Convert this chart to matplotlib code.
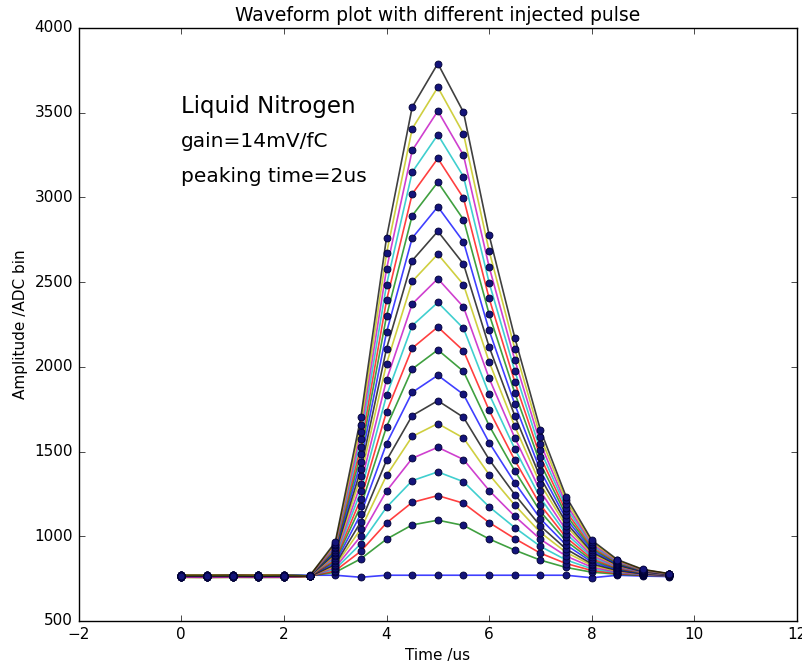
import numpy as np
import matplotlib.pyplot as plt

time_us = [0, 0.5, 1, 1.5, 2, 2.5, 3, 3.5, 4, 4.5, 5, 5.5, 6, 6.5, 7, 7.5, 8, 8.5, 9, 9.5]

# one waveform per injected pulse amplitude (ADC bins), lowest first
waveforms = [
    [770, 770, 770, 770, 770, 770, 770, 758, 770, 770, 770, 770, 770, 770, 770, 770, 755, 770, 765, 762],
    [768, 768, 767, 768, 768, 766, 787, 867, 983, 1067, 1095, 1064, 984, 918, 859, 816, 788, 776, 769, 767],
    [762, 762, 761, 762, 762, 765, 796, 912, 1079, 1200, 1240, 1195, 1081, 986, 900, 839, 798, 780, 771, 767],
    [770, 771, 770, 770, 771, 766, 806, 956, 1171, 1328, 1380, 1322, 1174, 1051, 940, 860, 808, 785, 773, 768],
    [765, 764, 765, 765, 764, 765, 815, 1001, 1267, 1460, 1525, 1453, 1270, 1118, 982, 883, 818, 789, 775, 769],
    [760, 760, 759, 760, 760, 764, 824, 1044, 1359, 1589, 1665, 1580, 1364, 1184, 1022, 905, 828, 794, 777, 770],
    [758, 757, 758, 757, 758, 763, 833, 1086, 1448, 1712, 1800, 1702, 1453, 1246, 1060, 925, 837, 798, 778, 770],
    [772, 772, 771, 772, 772, 766, 843, 1132, 1547, 1849, 1950, 1837, 1553, 1316, 1103, 949, 848, 803, 780, 771],
    [766, 766, 766, 765, 766, 765, 853, 1179, 1646, 1987, 2100, 1973, 1653, 1386, 1145, 972, 858, 808, 782, 772],
    [761, 761, 762, 761, 761, 764, 862, 1221, 1735, 2110, 2235, 2095, 1743, 1449, 1184, 993, 868, 812, 784, 772],
    [769, 768, 769, 769, 768, 766, 872, 1266, 1831, 2243, 2380, 2227, 1839, 1516, 1225, 1015, 878, 817, 786, 773],
    [764, 764, 763, 764, 764, 765, 881, 1309, 1923, 2371, 2520, 2353, 1932, 1581, 1265, 1037, 888, 821, 788, 774],
    [757, 757, 757, 758, 757, 763, 890, 1354, 2019, 2504, 2665, 2485, 2029, 1649, 1307, 1060, 898, 826, 790, 775],
    [771, 771, 772, 771, 771, 766, 899, 1396, 2108, 2627, 2800, 2607, 2118, 1711, 1345, 1080, 907, 830, 791, 775],
    [767, 766, 767, 767, 766, 765, 909, 1441, 2204, 2760, 2945, 2738, 2215, 1779, 1386, 1103, 918, 835, 793, 776],
    [760, 761, 760, 760, 761, 764, 918, 1486, 2300, 2892, 3090, 2869, 2311, 1846, 1428, 1125, 928, 839, 795, 777],
    [768, 768, 768, 769, 768, 766, 928, 1529, 2392, 3020, 3230, 2996, 2404, 1911, 1468, 1147, 938, 844, 797, 777],
    [763, 763, 764, 763, 763, 765, 937, 1573, 2484, 3149, 3370, 3123, 2497, 1976, 1507, 1169, 947, 848, 799, 778],
    [759, 758, 759, 759, 758, 764, 946, 1616, 2577, 3277, 3510, 3249, 2590, 2041, 1547, 1190, 957, 853, 801, 779],
    [770, 770, 769, 770, 770, 766, 955, 1659, 2669, 3405, 3650, 3376, 2684, 2107, 1587, 1212, 967, 857, 803, 779],
    [765, 765, 765, 764, 765, 765, 965, 1703, 2762, 3533, 3790, 3503, 2777, 2172, 1627, 1234, 977, 862, 804, 780],
]

line_colors = ['b', 'g', 'r', 'c', 'm', 'y', 'k']

plt.style.use('classic')
fig = plt.figure(figsize=(8.03, 6.66), dpi=100, facecolor='white')
ax = fig.add_axes([0.098, 0.0676, 0.8945, 0.8904])

for i, wf in enumerate(waveforms):
    ax.plot(time_us, wf, color=line_colors[i % 7], lw=1.2, alpha=0.75)
for wf in waveforms:
    ax.plot(time_us, wf, 'o', color='#14147a', mec='#000033', ms=5, mew=0.6)

ax.set_xlim(-2, 12)
ax.set_ylim(500, 4000)
ax.tick_params(labelsize=11)
ax.set_xlabel('Time /us', fontsize=11)
ax.set_ylabel('Amplitude /ADC bin', fontsize=11)
ax.set_title('Waveform plot with different injected pulse', fontsize=13.5)

ax.text(0, 3500, 'Liquid Nitrogen', fontsize=16.5)
ax.text(0, 3300, 'gain=14mV/fC', fontsize=14.5)
ax.text(0, 3090, 'peaking time=2us', fontsize=14.5)

fig.savefig('out.png', dpi=100, facecolor='white')
